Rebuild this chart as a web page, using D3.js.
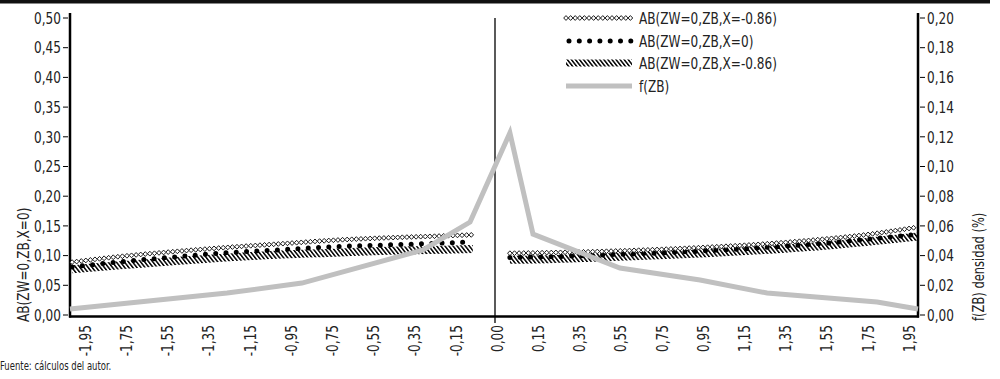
<!DOCTYPE html>
<html><head><meta charset="utf-8">
<script src="https://cdn.jsdelivr.net/npm/d3@7"></script>
<style>
body{margin:0;background:#fff;}
svg text{font-family:"DejaVu Sans Condensed","Liberation Sans Narrow","Liberation Sans",sans-serif;font-stretch:condensed;fill:#222;}
</style></head>
<body><svg id="c" width="1000" height="379"></svg>
<script>
// ---- data ----
const xTickLabels = ["-1,95","-1,75","-1,55","-1,35","-1,15","-0,95","-0,75","-0,55","-0,35","-0,15","0,00","0,15","0,35","0,55","0,75","0,95","1,15","1,35","1,55","1,75","1,95"];
const zLeft  = [-1.99,-1.75,-1.5,-1.25,-1.0,-0.75,-0.5,-0.25,-0.1];
const zRight = [0.075,0.25,0.5,0.75,1.0,1.25,1.5,1.75,2.0];
const s1Left  = [0.089,0.099,0.107,0.114,0.120,0.126,0.130,0.133,0.135];
const s2Left  = [0.081,0.090,0.098,0.105,0.110,0.115,0.118,0.121,0.123];
const s3Left  = [0.077,0.084,0.091,0.097,0.102,0.105,0.108,0.110,0.111];
const s1Right = [0.104,0.105,0.107,0.110,0.114,0.119,0.126,0.135,0.148];
const s2Right = [0.097,0.098,0.101,0.104,0.108,0.113,0.119,0.127,0.136];
const s3Right = [0.093,0.094,0.097,0.100,0.104,0.109,0.115,0.123,0.132];
const zDens = [-2.0,-1.259,-0.906,-0.335,-0.113,0.075,0.184,0.594,0.972,1.288,1.807,2.0];
const fDens = [0.0040,0.0148,0.0215,0.0438,0.0626,0.1226,0.0545,0.0316,0.0236,0.0148,0.0088,0.0040];
const leftTicks  = [0,0.05,0.10,0.15,0.20,0.25,0.30,0.35,0.40,0.45,0.50];
const rightTicks = [0,0.02,0.04,0.06,0.08,0.10,0.12,0.14,0.16,0.18,0.20];
const seriesNames = ["AB(ZW=0,ZB,X=-0.86)","AB(ZW=0,ZB,X=0)","AB(ZW=0,ZB,X=-0.86)","f(ZB)"];

// ---- layout ----
const svg = d3.select("#c");
const X0 = 70, X1 = 918, YT = 18, YB = 315;
const SX = 0.84; // horizontal text compression (condensed face)
const x = d3.scaleLinear().domain([-2,2]).range([X0,X1]);
const xLab = d3.scalePoint().domain(xTickLabels).range([85,909]);
const yL = d3.scaleLinear().domain([0,0.5]).range([YB,YT]);
const yR = d3.scaleLinear().domain([0,0.2]).range([YB,YT]);
const fmt2 = d3.format(".2f");
const comma = v => fmt2(v).replace(".",",");

// top bar
svg.append("rect").attr("x",0).attr("y",0).attr("width",990).attr("height",3.5).attr("fill","#111");

// defs
const defs = svg.append("defs");
const pat = defs.append("pattern").attr("id","hatch").attr("patternUnits","userSpaceOnUse")
  .attr("width",3.2).attr("height",12).attr("patternTransform","rotate(-38)");
pat.append("rect").attr("x",0).attr("y",0).attr("width",1.5).attr("height",12).attr("fill","#000");

// axes lines
const ax = svg.append("g");
ax.append("line").attr("x1",X0).attr("x2",X0).attr("y1",13).attr("y2",YB+2.5).attr("stroke","#000").attr("stroke-width",2.5);
ax.append("line").attr("x1",X1).attr("x2",X1).attr("y1",13).attr("y2",YB+2.5).attr("stroke","#000").attr("stroke-width",2.5);
ax.append("line").attr("x1",X0-1).attr("x2",X1+1).attr("y1",YB+1.5).attr("y2",YB+1.5).attr("stroke","#000").attr("stroke-width",2.5);
ax.append("line").attr("x1",x(0)+1).attr("x2",x(0)+1).attr("y1",YT).attr("y2",YB+8).attr("stroke","#000").attr("stroke-width",1.3);

// left ticks
const gl = svg.append("g");
gl.selectAll("line").data(leftTicks).join("line")
  .attr("x1",X0-7).attr("x2",X0-2).attr("y1",d=>yL(d)).attr("y2",d=>yL(d)).attr("stroke","#000").attr("stroke-width",1);
gl.selectAll("text").data(leftTicks).join("text")
  .attr("transform",d=>`translate(${X0-9},${yL(d)}) scale(${SX},1)`)
  .attr("dy","0.36em").attr("text-anchor","end").attr("font-size",16).text(d=>comma(d));
// right ticks
const gr = svg.append("g");
gr.selectAll("line").data(rightTicks).join("line")
  .attr("x1",X1+2).attr("x2",X1+7).attr("y1",d=>yR(d)).attr("y2",d=>yR(d)).attr("stroke","#000").attr("stroke-width",1);
gr.selectAll("text").data(rightTicks).join("text")
  .attr("transform",d=>`translate(${X1+9},${yR(d)}) scale(${SX},1)`)
  .attr("dy","0.36em").attr("text-anchor","start").attr("font-size",16).text(d=>comma(d));
// x labels
svg.append("g").selectAll("text").data(xTickLabels).join("text")
  .attr("transform",d=>`translate(${xLab(d)},325) rotate(-90) scale(${SX},1)`)
  .attr("dy","0.36em").attr("text-anchor","end").attr("font-size",16)
  .text(d=>d);

// axis titles
svg.append("text").attr("transform",`translate(23,322) rotate(-90) scale(${SX},1)`).attr("dy","0.36em")
  .attr("text-anchor","start").attr("font-size",16).text("AB(ZW=0,ZB,X=0)");
svg.append("text").attr("transform",`translate(978,321) rotate(-90) scale(${SX*0.95},1)`).attr("dy","0.36em")
  .attr("text-anchor","start").attr("font-size",16).text("f(ZB) densidad (%)");
svg.append("text").attr("transform",`translate(0,370) scale(0.82,1)`).attr("font-size",11.5).text("Fuente: cálculos del autor.");

// ---- series ----
const lineL = d3.line().x(d=>x(d[0])).y(d=>yL(d[1])).curve(d3.curveMonotoneX);
const zip = (a,b)=>a.map((v,i)=>[v,b[i]]);
const plot = svg.append("g");

function drawHatch(pts, g){
  g.append("path").attr("d",lineL(pts)).attr("fill","none").attr("stroke","url(#hatch)").attr("stroke-width",8);
}
function drawDots(pts, g){
  g.append("path").attr("d",lineL(pts)).attr("fill","none").attr("stroke","#000")
   .attr("stroke-width",5).attr("stroke-linecap","round").attr("stroke-dasharray","0 10.3");
}
function drawDiamonds(pathD, g, step){
  const p = g.append("path").attr("d",pathD).attr("fill","none").attr("stroke","none");
  const node = p.node(), L = node.getTotalLength();
  const pts = [];
  for(let s=0;s<=L+0.01;s+=step){ const q=node.getPointAtLength(Math.min(s,L)); pts.push([q.x,q.y]); }
  g.selectAll(null).data(pts).join("path")
   .attr("d",d=>`M${d[0]-2.3},${d[1]}L${d[0]},${d[1]-2.4}L${d[0]+2.3},${d[1]}L${d[0]},${d[1]+2.4}Z`)
   .attr("fill","#fff").attr("stroke","#000").attr("stroke-width",0.9);
}

[[zLeft,s3Left],[zRight,s3Right]].forEach(([z,v])=>drawHatch(zip(z,v),plot));
[[zLeft,s2Left],[zRight,s2Right]].forEach(([z,v])=>drawDots(zip(z,v),plot));
[[zLeft,s1Left],[zRight,s1Right]].forEach(([z,v])=>drawDiamonds(lineL(zip(z,v)),plot.append("g"),4.6));

const lineR = d3.line().x(d=>x(d[0])).y(d=>yR(d[1]));
plot.append("path").attr("d",lineR(zip(zDens,fDens))).attr("fill","none")
  .attr("stroke","#c0c0c0").attr("stroke-width",5).attr("stroke-linejoin","miter");

// ---- legend ----
const lg = svg.append("g");
const lx0 = 566, lx1 = 632, rows = [18,41,63,86];
drawDiamonds(`M${lx0},${rows[0]}L${lx1},${rows[0]}`, lg.append("g"), 4.6);
lg.append("path").attr("d",`M${lx0+3},${rows[1]}L${lx1},${rows[1]}`).attr("stroke","#000")
  .attr("stroke-width",5).attr("stroke-linecap","round").attr("stroke-dasharray","0 10.3");
lg.append("path").attr("d",`M${lx0},${rows[2]}L${lx1},${rows[2]}`).attr("stroke","url(#hatch)").attr("stroke-width",7);
lg.append("path").attr("d",`M${lx0},${rows[3]}L${lx1},${rows[3]}`).attr("stroke","#c0c0c0").attr("stroke-width",5);
lg.selectAll("text").data(seriesNames).join("text")
  .attr("transform",(d,i)=>`translate(639,${rows[i]}) scale(${SX},1)`)
  .attr("dy","0.36em").attr("font-size",16).text(d=>d);
</script></body></html>
